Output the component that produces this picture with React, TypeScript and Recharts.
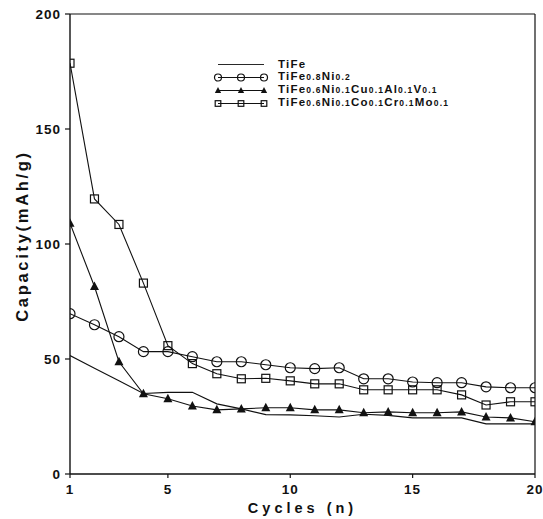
import React from 'react';
import {
  LineChart,
  Line,
  XAxis,
  YAxis,
  Legend,
  ReferenceLine,
  Label,
} from 'recharts';

const cycles = [1, 2, 3, 4, 5, 6, 7, 8, 9, 10, 11, 12, 13, 14, 15, 16, 17, 18, 19, 20];

const tiFe = [51.5, 46, 40.5, 35, 35.5, 35.5, 30.5, 28.3, 25.8, 25.7, 25.3, 24.8, 26, 25.5, 24.4, 24.4, 24.4, 21.8, 21.8, 21.8];
const tiFeNi = [69.7, 64.9, 59.7, 53.2, 53.2, 51, 48.8, 48.8, 47.5, 46.2, 45.8, 46.2, 41.4, 41.4, 40, 39.7, 39.7, 37.9, 37.5, 37.5];
const tiFeCuAlV = [109, 81.5, 48.8, 34.9, 32.7, 29.6, 27.9, 28.3, 28.8, 28.8, 27.9, 27.9, 26.6, 27, 26.6, 26.6, 27, 24.8, 24.4, 22.7];
const tiFeCoCrMo = [178.6, 119.6, 108.5, 83, 55.8, 48, 43.6, 41.4, 41.6, 40.5, 39.2, 39.2, 36.6, 36.6, 36.6, 36.6, 34.4, 30, 31.4, 31.4];

const xTicks = [1, 5, 10, 15, 20];
const yTicks = [0, 50, 100, 150, 200];

const data = cycles.map((n, i) => ({
  n,
  tiFe: tiFe[i],
  tiFeNi: tiFeNi[i],
  tiFeCuAlV: tiFeCuAlV[i],
  tiFeCoCrMo: tiFeCoCrMo[i],
}));

const FONT = '"Liberation Sans", Arial, sans-serif';
const INK = '#111';

type Mark = 'none' | 'circle' | 'triangle' | 'square';

// s scales the marker: 1 in the plot, smaller in the legend
function marker(kind: Mark, cx: number, cy: number, s = 1, key?: React.Key) {
  if (kind === 'circle') {
    return <circle key={key} cx={cx} cy={cy} r={5 * s} fill="none" stroke={INK} strokeWidth={1.2} />;
  }
  if (kind === 'triangle') {
    return (
      <polygon
        key={key}
        points={`${cx},${cy - 5 * s} ${cx - 4.5 * s},${cy + 3.5 * s} ${cx + 4.5 * s},${cy + 3.5 * s}`}
        fill={INK}
      />
    );
  }
  if (kind === 'square') {
    return (
      <rect
        key={key}
        x={cx - 4 * s}
        y={cy - 4 * s}
        width={8 * s}
        height={8 * s}
        fill="none"
        stroke={INK}
        strokeWidth={1.2}
      />
    );
  }
  return null;
}

const dotFor = (kind: Mark) => (props: any) => {
  const { cx, cy, index } = props;
  if (cx == null || cy == null) return <g key={index} />;
  return <g key={index}>{marker(kind, cx, cy)}</g>;
};

const Sub = ({ children }: { children: React.ReactNode }) => (
  <span style={{ fontSize: 8.5, letterSpacing: 1.2 }}>{children}</span>
);

const legendRows: { kind: Mark; label: React.ReactNode }[] = [
  { kind: 'none', label: <>TiFe</> },
  { kind: 'circle', label: <>TiFe<Sub>0.8</Sub>Ni<Sub>0.2</Sub></> },
  {
    kind: 'triangle',
    label: <>TiFe<Sub>0.6</Sub>Ni<Sub>0.1</Sub>Cu<Sub>0.1</Sub>Al<Sub>0.1</Sub>V<Sub>0.1</Sub></>,
  },
  {
    kind: 'square',
    label: <>TiFe<Sub>0.6</Sub>Ni<Sub>0.1</Sub>Co<Sub>0.1</Sub>Cr<Sub>0.1</Sub>Mo<Sub>0.1</Sub></>,
  },
];

function LegendBox() {
  return (
    <div style={{ fontFamily: FONT, fontWeight: 'bold', fontSize: 11.5, color: INK, lineHeight: '11px' }}>
      {legendRows.map((row, i) => (
        <div key={i} style={{ display: 'flex', alignItems: 'center', height: 13, whiteSpace: 'nowrap' }}>
          <svg width={54} height={11} style={{ marginRight: 10, overflow: 'visible' }}>
            <line x1={4} y1={5.5} x2={50} y2={5.5} stroke={INK} strokeWidth={row.kind === 'none' ? 0.9 : 1.1} />
            {[4, 27, 50].map((x, j) => marker(row.kind, x, 5.5, 0.7, j))}
          </svg>
          <span style={{ letterSpacing: 1.2 }}>{row.label}</span>
        </div>
      ))}
    </div>
  );
}

const YTitle = (props: any) => {
  const vb = props.viewBox || {};
  const x = vb.x + 14;
  const y = vb.y + vb.height / 2 - 8;
  return (
    <text
      x={x}
      y={y}
      transform={`rotate(-90, ${x}, ${y})`}
      textAnchor="middle"
      dominantBaseline="central"
      style={{ fontFamily: FONT, fontWeight: 'bold', fontSize: 16.5, fill: INK, letterSpacing: 2.7 }}
    >
      Capacity(mAh/g)
    </text>
  );
};

const tickStyle = { fontFamily: FONT, fontWeight: 'bold' as const, fontSize: 13.5, fill: INK, letterSpacing: 1 };

export default function App() {
  return (
    <div style={{ position: 'absolute', left: 0, top: 0, width: 543, height: 519, background: '#fff' }}>
      <LineChart width={543} height={519} data={data} margin={{ top: 14, right: 8, bottom: 0, left: 8 }}>
        <XAxis
          dataKey="n"
          type="number"
          domain={[1, 20]}
          ticks={xTicks}
          allowDataOverflow
          height={45}
          tickSize={4}
          tickMargin={6}
          axisLine={{ stroke: INK, strokeWidth: 1.4 }}
          tickLine={{ stroke: INK, strokeWidth: 1.2 }}
          tick={tickStyle}
        >
          <Label
            value={'Cycles\u00a0(n)'}
            position="insideBottom"
            offset={6}
            style={{ fontFamily: FONT, fontWeight: 'bold', fontSize: 14.5, fill: INK, letterSpacing: 4 }}
          />
        </XAxis>
        <YAxis
          type="number"
          domain={[0, 200]}
          ticks={yTicks}
          width={62}
          tickSize={5}
          tickMargin={4}
          axisLine={{ stroke: INK, strokeWidth: 1.4 }}
          tickLine={{ stroke: INK, strokeWidth: 1.2 }}
          tick={tickStyle}
        >
          <Label content={YTitle} />
        </YAxis>
        <ReferenceLine y={200} stroke={INK} strokeWidth={1.2} />
        <ReferenceLine x={20} stroke={INK} strokeWidth={1.2} />
        <Legend
          layout="vertical"
          align="center"
          verticalAlign="middle"
          content={() => <LegendBox />}
          wrapperStyle={{ position: 'absolute', left: 214, top: 57.5, width: 320, height: 52 }}
        />
        <Line
          dataKey="tiFe"
          name="TiFe"
          stroke={INK}
          strokeWidth={1.1}
          dot={false}
          activeDot={false}
          isAnimationActive={false}
        />
        <Line
          dataKey="tiFeNi"
          name="TiFe0.8Ni0.2"
          stroke={INK}
          strokeWidth={1.1}
          dot={dotFor('circle')}
          activeDot={false}
          isAnimationActive={false}
        />
        <Line
          dataKey="tiFeCuAlV"
          name="TiFe0.6Ni0.1Cu0.1Al0.1V0.1"
          stroke={INK}
          strokeWidth={1.1}
          dot={dotFor('triangle')}
          activeDot={false}
          isAnimationActive={false}
        />
        <Line
          dataKey="tiFeCoCrMo"
          name="TiFe0.6Ni0.1Co0.1Cr0.1Mo0.1"
          stroke={INK}
          strokeWidth={1.1}
          dot={dotFor('square')}
          activeDot={false}
          isAnimationActive={false}
        />
      </LineChart>
    </div>
  );
}
